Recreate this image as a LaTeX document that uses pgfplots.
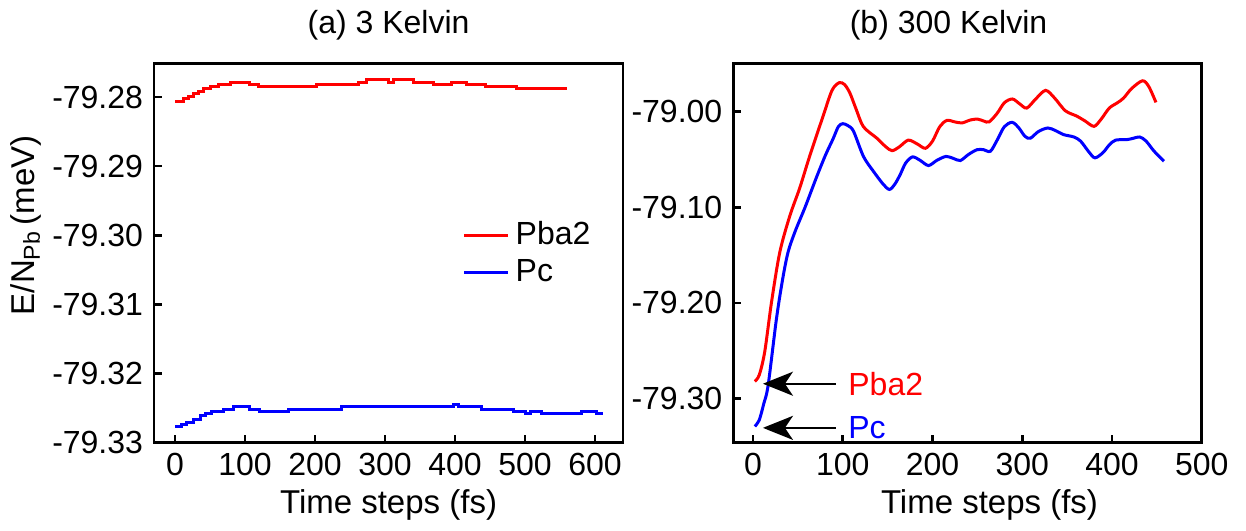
\documentclass[border=0pt]{standalone}
\usepackage{pgfplots}
\pgfplotsset{compat=1.18}
\usepackage{fontspec}
\setmainfont{Liberation Sans}
\usetikzlibrary{arrows.meta}

\pgfplotstableread{
t v
0 -79.28065
12 -79.28027
19 -79.2799
26 -79.27952
33 -79.27916
40 -79.27882
50 -79.27844
62 -79.27815
79 -79.27786
107 -79.27815
119 -79.27844
202 -79.27815
262 -79.27786
274 -79.27751
305 -79.27786
312 -79.27751
340 -79.27786
369 -79.27815
395 -79.27786
417 -79.27815
443 -79.27844
488 -79.27882
560 -79.27882
}\redA

\pgfplotstableread{
t v
0 -79.32766
9.5 -79.32737
17 -79.32708
26 -79.32661
36 -79.32613
43 -79.32578
52 -79.32549
69 -79.32516
83 -79.32482
107 -79.32516
121 -79.32549
162 -79.32516
238 -79.32482
398 -79.32448
405 -79.32482
438 -79.32516
483 -79.32549
500 -79.32578
508 -79.32549
524 -79.32578
581 -79.32549
602 -79.32578
612 -79.32578
}\blueA

\pgfplotstableread{
t v
2 -79.282
7 -79.275
13 -79.251
20.6 -79.199
29.8 -79.147
41 -79.109
52 -79.080
63 -79.047
78 -79.005
88 -78.978
96 -78.970
102 -78.972
108 -78.981
115 -78.998
123 -79.016
138 -79.028
148 -79.037
155 -79.041
163 -79.037
173 -79.030
183 -79.034
192 -79.0385
200 -79.031
208 -79.016
216 -79.0094
225 -79.011
233 -79.012
242 -79.009
250 -79.008
257 -79.010
263 -79.011
272 -79.002
280 -78.991
289 -78.987
297 -78.992
305 -78.9965
315 -78.987
326 -78.978
336 -78.986
348 -78.9993
361 -79.005
370 -79.010
380 -79.0156
388 -79.008
397 -78.9965
406 -78.991
413 -78.986
422 -78.976
434 -78.968
441 -78.974
449 -78.9906
}\redB

\pgfplotstableread{
t v
2 -79.329
7 -79.322
12 -79.305
16.8 -79.286
26 -79.217
33 -79.175
39 -79.147
47 -79.125
58 -79.100
71 -79.068
81 -79.045
89 -79.029
95 -79.016
100 -79.0128
106 -79.015
112 -79.0208
123 -79.047
134 -79.0624
145 -79.076
152 -79.0815
158 -79.076
164 -79.0659
170 -79.054
177.7 -79.0475
186 -79.051
195.5 -79.0565
205 -79.051
215 -79.047
223 -79.049
231 -79.0513
240 -79.045
249.6 -79.040
257 -79.040
264.5 -79.0416
272 -79.030
280 -79.016
288.7 -79.0114
296 -79.017
303 -79.026
309 -79.028
318 -79.021
328.5 -79.0173
337 -79.020
346 -79.0242
357.5 -79.0267
365 -79.031
374 -79.042
381 -79.0485
390 -79.043
397 -79.035
404 -79.030
417 -79.0294
424 -79.028
431 -79.0267
438 -79.031
447 -79.0416
458 -79.052
}\blueB

\begin{document}
\fontsize{16}{19}\selectfont
\begin{tikzpicture}
\path (-77pt,-43.5pt) rectangle (546pt,211.5pt);
\pgfplotsset{
 every axis/.append style={
  scale only axis, height=189.5pt,
  axis line style={line width=1.4pt},
  every tick/.style={line width=1.4pt, black},
  major tick length=4pt,
  tick align=inside, xtick pos=bottom, ytick pos=left,
  tick label style={font=\fontsize{16}{19}\selectfont},
  label style={font=\fontsize{16.5}{19}\selectfont},
  title style={font=\fontsize{16}{19}\selectfont},
  /pgf/number format/assume math mode=true,
 }
}
\begin{axis}[
  at={(0pt,0pt)}, anchor=south west, width=234.5pt,
  xmin=-30, xmax=640, ymin=-79.33, ymax=-79.27516,
  xtick={0,100,...,600},
  ytick={-79.33,-79.32,-79.31,-79.30,-79.29,-79.28},
  yticklabels={-79.33,-79.32,-79.31,-79.30,-79.29,-79.28},
  title={(a) 3 Kelvin},
  xlabel={Time steps (fs)},
  xlabel style={at={(axis description cs:0.5,-0.1636)}, anchor=center},
  ylabel={E/N\textsubscript{Pb}\,(meV)},
  ylabel style={at={(axis description cs:-0.273,0.573)}, anchor=center},
  legend style={draw=none, fill=none, at={(axis description cs:0.645,0.4975)}, anchor=west,
    font=\fontsize{16}{19}\selectfont, row sep=1.5pt,
    nodes={inner ysep=1pt, inner xsep=3pt, text height=12pt, text depth=3pt}},
  legend cell align=left,
  legend image code/.code={\draw[#1, line width=1.4pt] (0pt,0pt) -- (22pt,0pt);},
]
\addplot[red, line width=1.5pt, const plot] table[x=t, y=v] {\redA};
\addlegendentry{Pba2}
\addplot[blue, line width=1.5pt, const plot] table[x=t, y=v] {\blueA};
\addlegendentry{Pc}
\end{axis}

\begin{axis}[
  at={(289.65pt,0pt)}, anchor=south west, width=234.2pt,
  xmin=-22, xmax=500, ymin=-79.3458, ymax=-78.950,
  xtick={0,100,...,500},
  ytick={-79.3,-79.2,-79.1,-79.0},
  yticklabels={-79.30,-79.20,-79.10,-79.00},
  title={(b) 300 Kelvin},
  title style={xshift=-9.5pt},
  xlabel={Time steps (fs)},
  xlabel style={at={(axis description cs:0.5,-0.1636)}, anchor=center, xshift=11pt},
]
\addplot[red, line width=1.5pt, smooth] table[x=t, y=v] {\redB};
\addplot[blue, line width=1.5pt, smooth] table[x=t, y=v] {\blueB};
\draw[line width=1.1pt, -{Stealth[length=15pt, width=12pt, inset=4pt]}] (axis cs:92,-79.2844) -- (axis cs:11,-79.2844);
\draw[line width=1.1pt, -{Stealth[length=15pt, width=12pt, inset=4pt]}] (axis cs:92,-79.3305) -- (axis cs:11,-79.3305);
\node[anchor=west, text=red, inner sep=0pt, font=\fontsize{16}{19}\selectfont] at (axis cs:105.8,-79.2844) {Pba2};
\node[anchor=west, text=blue, inner sep=0pt, font=\fontsize{16}{19}\selectfont] at (axis cs:105.8,-79.3305) {Pc};
\end{axis}
\end{tikzpicture}
\end{document}
